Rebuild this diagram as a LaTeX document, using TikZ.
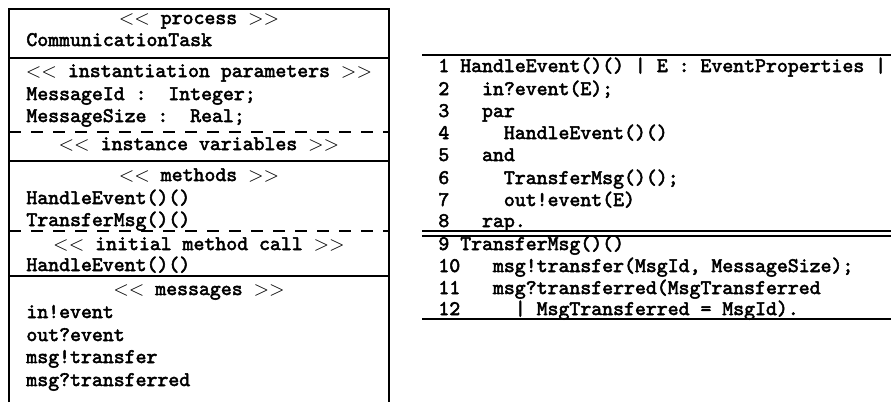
\documentclass[tikz,border=0pt]{standalone}
\usepackage{fontspec}
\setmonofont{Latin Modern Mono}[AutoFakeBold=2.5]
\begin{document}
\begin{tikzpicture}[x=0.5pt,y=-0.5pt,
  txt/.style={anchor=base west, inner sep=0pt, font=\fontsize{10.4}{12}\selectfont\ttfamily\bfseries},
  hd/.style={anchor=base, inner sep=0pt, font=\fontsize{10.4}{12}\selectfont\ttfamily\bfseries},
  rule/.style={line width=0.9pt},
  drule/.style={line width=0.9pt, dash pattern=on 6pt off 5pt}]
\useasboundingbox (0,0) rectangle (893,402);
% left box
\coordinate (LTL) at (9,9);
\coordinate (LTR) at (389,9);
\coordinate (LBL) at (9,402);
\coordinate (LBR) at (389,402);
\draw[rule] (LBL) -- (LTL) -- (LTR) -- (LBR);
\draw[rule] (9,58) -- (389,58);
\draw[drule] (9,132) -- (389,132);
\draw[rule] (9,161) -- (389,161);
\draw[drule] (9,231) -- (389,231);
\draw[rule] (9,276) -- (389,276);
\node[hd] (h1) at (199,24) {$<<$ process $>>$};
\node[txt] (t1) at (26,46) {CommunicationTask};
\node[hd] (h2) at (199,77) {$<<$ instantiation parameters $>>$};
\node[txt] (t2) at (26,100) {MessageId~:~~Integer;};
\node[txt] (t3) at (26,122) {MessageSize~:~~Real;};
\node[hd] (h3) at (199,150) {$<<$ instance variables $>>$};
\node[hd] (h4) at (199,181) {$<<$ methods $>>$};
\node[txt] (t4) at (26,204) {HandleEvent()()};
\node[txt] (t5) at (26,226) {TransferMsg()()};
\node[hd] (h5) at (199,250) {$<<$ initial method call $>>$};
\node[txt] (t6) at (26,271) {HandleEvent()()};
\node[hd] (h6) at (199,295) {$<<$ messages $>>$};
\node[txt] (t7) at (26,318) {in!event};
\node[txt] (t8) at (26,341) {out?event};
\node[txt] (t9) at (26,363) {msg!transfer};
\node[txt] (t10) at (26,386) {msg?transferred};
% right box
\draw[rule] (422,55) -- (891,55);
\draw[rule] (422,231) -- (891,231);
\draw[rule] (422,236) -- (891,236);
\draw[rule] (422,319) -- (891,319);
\node[txt] (r1) at (438,72) {1~HandleEvent()()~|~E~:~EventProperties~|};
\node[txt] (r2) at (438,95) {2~~~in?event(E);};
\node[txt] (r3) at (438,117) {3~~~par};
\node[txt] (r4) at (438,139) {4~~~~~HandleEvent()()};
\node[txt] (r5) at (438,161) {5~~~and};
\node[txt] (r6) at (438,184) {6~~~~~TransferMsg()();};
\node[txt] (r7) at (438,206) {7~~~~~out!event(E)};
\node[txt] (r8) at (438,227) {8~~~rap.};
\node[txt] (r9) at (438,250) {9~TransferMsg()()};
\node[txt] (r10) at (438,272) {10~~~msg!transfer(MsgId,~MessageSize);};
\node[txt] (r11) at (438,294) {11~~~msg?transferred(MsgTransferred};
\node[txt] (r12) at (438,315) {12~~~~~|~MsgTransferred~=~MsgId).};
\end{tikzpicture}
\end{document}
